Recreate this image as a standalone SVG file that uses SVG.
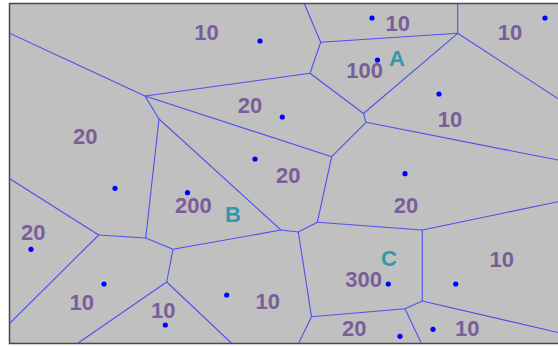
<svg xmlns="http://www.w3.org/2000/svg" width="558" height="346" viewBox="0 0 558 346">
<style>
.bg{fill:#C0C0C0;stroke:#4a4a4a;stroke-width:1.5}
.e{stroke:#4F4FEF;stroke-width:1.1;fill:none}
.d{fill:#0000FF}
.n{font-family:"Liberation Sans",Arial,sans-serif;font-weight:bold;font-size:22px;fill:#7A5E9A;text-anchor:middle}
.l{font-family:"Liberation Sans",Arial,sans-serif;font-weight:bold;font-size:22px;fill:#3399AA;text-anchor:middle}
</style>
<defs><clipPath id="clip"><rect x="9.5" y="3.5" width="560" height="340"/></clipPath></defs>
<rect width="558" height="346" fill="#FFFFFF"/>
<rect class="bg" x="9.5" y="3.5" width="600" height="340"/>
<g id="connectors" class="e" clip-path="url(#clip)">
<line x1="9" y1="33" x2="145" y2="96"/>
<line x1="145" y1="96" x2="310" y2="73.3"/>
<line x1="145" y1="96" x2="159" y2="119"/>
<line x1="145" y1="96" x2="331.7" y2="156.7"/>
<line x1="159" y1="119" x2="145.7" y2="238"/>
<line x1="159" y1="119" x2="281" y2="230"/>
<line x1="304" y1="3" x2="320.7" y2="42.3"/>
<line x1="320.7" y1="42.3" x2="310" y2="73.3"/>
<line x1="320.7" y1="42.3" x2="457.7" y2="33.3"/>
<line x1="310" y1="73.3" x2="363.5" y2="113.5"/>
<line x1="363.5" y1="113.5" x2="457.7" y2="33.3"/>
<line x1="363.5" y1="113.5" x2="366" y2="122.3"/>
<line x1="366" y1="122.3" x2="331.7" y2="156.7"/>
<line x1="366" y1="122.3" x2="560" y2="160.4"/>
<line x1="457.7" y1="3" x2="457.7" y2="33.3"/>
<line x1="457.7" y1="33.3" x2="560" y2="100"/>
<line x1="331.7" y1="156.7" x2="317.3" y2="222.3"/>
<line x1="9" y1="178.3" x2="98.7" y2="235"/>
<line x1="98.7" y1="235" x2="145.7" y2="238"/>
<line x1="98.7" y1="235" x2="9" y2="324"/>
<line x1="145.7" y1="238" x2="173" y2="249.3"/>
<line x1="173" y1="249.3" x2="281" y2="230"/>
<line x1="173" y1="249.3" x2="166.7" y2="282"/>
<line x1="166.7" y1="282" x2="76.7" y2="344"/>
<line x1="166.7" y1="282" x2="232.3" y2="344"/>
<line x1="281" y1="230" x2="298.3" y2="232"/>
<line x1="298.3" y1="232" x2="317.3" y2="222.3"/>
<line x1="298.3" y1="232" x2="311.5" y2="316.7"/>
<line x1="317.3" y1="222.3" x2="422.3" y2="230"/>
<line x1="422.3" y1="230" x2="560" y2="201.3"/>
<line x1="422.3" y1="230" x2="422.3" y2="301"/>
<line x1="422.3" y1="301" x2="405" y2="308.7"/>
<line x1="422.3" y1="301" x2="560" y2="333"/>
<line x1="405" y1="308.7" x2="311.5" y2="316.7"/>
<line x1="405" y1="308.7" x2="421.7" y2="344"/>
<line x1="311.5" y1="316.7" x2="298.3" y2="344"/>
</g>
<g id="n1"><circle class="d" cx="260" cy="41" r="2.6"/><text class="n" x="206.5" y="40">10</text></g>
<g id="n2"><circle class="d" cx="372" cy="18" r="2.6"/><text class="n" x="397.7" y="31">10</text></g>
<g id="n3"><circle class="d" cx="545" cy="18" r="2.6"/><text class="n" x="510" y="40">10</text></g>
<g id="nA"><circle class="d" cx="377.5" cy="60" r="2.6"/><text class="n" x="364.7" y="78">100</text><text class="l" x="397" y="65.7">A</text></g>
<g id="n5"><circle class="d" cx="439" cy="94" r="2.6"/><text class="n" x="450" y="126.7">10</text></g>
<g id="n6"><circle class="d" cx="282.3" cy="117" r="2.6"/><text class="n" x="250" y="113.3">20</text></g>
<g id="n7"><circle class="d" cx="115" cy="188.3" r="2.6"/><text class="n" x="85.3" y="144">20</text></g>
<g id="n8"><circle class="d" cx="255" cy="159" r="2.6"/><text class="n" x="288.3" y="182.7">20</text></g>
<g id="nB"><circle class="d" cx="187.5" cy="192.7" r="2.6"/><text class="n" x="193.3" y="213.3">200</text><text class="l" x="233" y="222.3">B</text></g>
<g id="n10"><circle class="d" cx="405" cy="173.7" r="2.6"/><text class="n" x="406" y="213.3">20</text></g>
<g id="n11"><circle class="d" cx="31" cy="249.3" r="2.6"/><text class="n" x="33.3" y="240">20</text></g>
<g id="nC"><circle class="d" cx="388.3" cy="284" r="2.6"/><text class="n" x="363.7" y="286.7">300</text><text class="l" x="389" y="265.7">C</text></g>
<g id="n13"><circle class="d" cx="455.7" cy="284" r="2.6"/><text class="n" x="501.7" y="266.7">10</text></g>
<g id="n14"><circle class="d" cx="104" cy="284" r="2.6"/><text class="n" x="81.7" y="310">10</text></g>
<g id="n15"><circle class="d" cx="165.3" cy="325" r="2.6"/><text class="n" x="163.3" y="318.3">10</text></g>
<g id="n16"><circle class="d" cx="226.7" cy="295" r="2.6"/><text class="n" x="267.7" y="309.3">10</text></g>
<g id="n17"><circle class="d" cx="400" cy="336.3" r="2.6"/><text class="n" x="354.3" y="336">20</text></g>
<g id="n18"><circle class="d" cx="433" cy="329.3" r="2.6"/><text class="n" x="467.3" y="336">10</text></g>
</svg>
